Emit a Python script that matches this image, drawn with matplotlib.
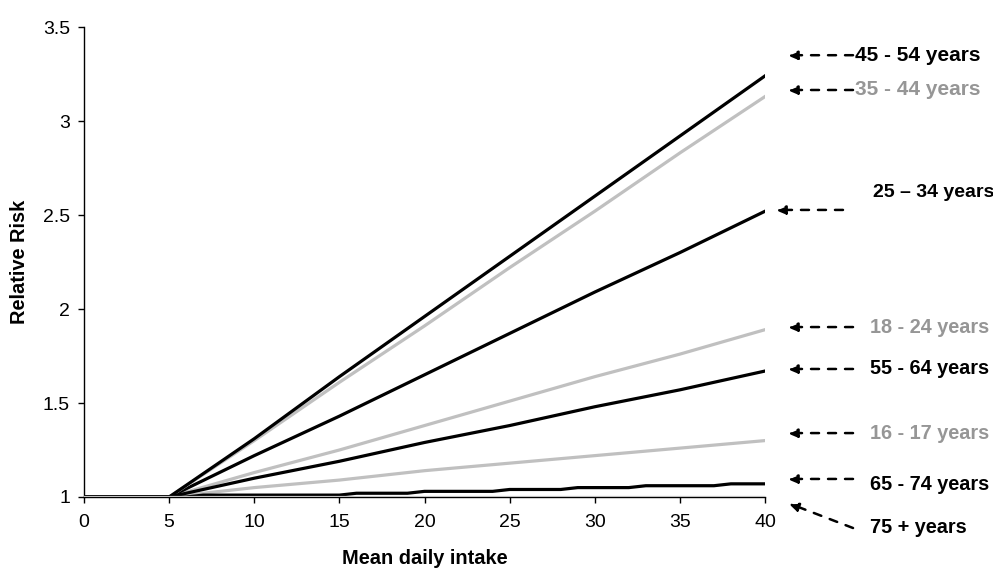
import matplotlib
matplotlib.use("Agg")
import matplotlib.pyplot as plt

plt.rcParams['font.family'] = ['Liberation Sans', 'DejaVu Sans']

# mean daily intake (x) and relative risk by age group
x = [0, 5, 10, 15, 20, 25, 30, 35, 40]
rr_45_54 = [1.00, 1.00, 1.31, 1.64, 1.96, 2.28, 2.60, 2.92, 3.24]
rr_35_44 = [1.00, 1.00, 1.30, 1.61, 1.91, 2.22, 2.52, 2.83, 3.13]
rr_25_34 = [1.00, 1.00, 1.22, 1.43, 1.65, 1.87, 2.09, 2.30, 2.52]
rr_18_24 = [1.00, 1.00, 1.13, 1.25, 1.38, 1.51, 1.64, 1.76, 1.89]
rr_55_64 = [1.00, 1.00, 1.10, 1.19, 1.29, 1.38, 1.48, 1.57, 1.67]
rr_16_17 = [1.00, 1.00, 1.05, 1.09, 1.14, 1.18, 1.22, 1.26, 1.30]
rr_75_up = [1.00, 1.00, 1.00, 1.00, 1.00, 1.00, 1.00, 1.00, 1.00]

x_int = list(range(0, 41))
rr_65_74 = ([1.00] * 7 + [1.01] * 9 + [1.02] * 4 + [1.03] * 5 +
            [1.04] * 4 + [1.05] * 4 + [1.06] * 5 + [1.07] * 3)

BLACK = '#000000'
LGREY = '#c0c0c0'
TGREY = '#969696'

fig = plt.figure(figsize=(9.93, 5.71), dpi=100)
ax = fig.add_axes([0.0846, 0.1296, 0.6858, 0.8231])

lw = 2.3
ax.plot(x, rr_16_17, color=LGREY, lw=lw)
ax.plot(x, rr_18_24, color=LGREY, lw=lw)
ax.plot(x, rr_25_34, color=BLACK, lw=lw)
ax.plot(x, rr_35_44, color=LGREY, lw=lw)
ax.plot(x, rr_45_54, color=BLACK, lw=lw)
ax.plot(x, rr_55_64, color=BLACK, lw=lw)
ax.plot(x_int, rr_65_74, color=BLACK, lw=lw)
ax.plot(x, rr_75_up, color=LGREY, lw=lw, zorder=3)

ax.set_xlim(0, 40)
ax.set_ylim(1, 3.5)
ax.set_xticks(range(0, 41, 5))
ax.set_yticks([1, 1.5, 2, 2.5, 3, 3.5])
ax.set_yticklabels(['1', '1.5', '2', '2.5', '3', '3.5'])
ax.tick_params(axis='both', direction='out', length=4, width=1, labelsize=14)
ax.tick_params(axis='x', pad=8)
ax.tick_params(axis='y', pad=6)
for s in ['top', 'right']:
    ax.spines[s].set_visible(False)
ax.spines['left'].set_linewidth(1)
ax.spines['bottom'].set_linewidth(1)

ax.set_xlabel('Mean daily intake', fontsize=14.4, fontweight='bold', va='center')
ax.xaxis.set_label_coords(0.5, -0.131)
ax.set_ylabel('Relative Risk', fontsize=14.4, fontweight='bold', va='center')
ax.yaxis.set_label_coords(-0.094, 0.5)

# labels on the right: text, colour, size, arrow head, arrow tail, text position
labels = ['45 - 54 years', '35 - 44 years', '25 \u2013 34 years', '18 - 24 years',
          '55 - 64 years', '16 - 17 years', '65 - 74 years', '75 + years']
label_colors = [BLACK, TGREY, BLACK, TGREY, BLACK, TGREY, BLACK, BLACK]
label_sizes = [15, 15, 14, 14.3, 14.3, 14.3, 14.3, 14.3]
heads = [(41.29, 3.35), (41.29, 3.165), (40.59, 2.527), (41.29, 1.904),
         (41.29, 1.681), (41.29, 1.34), (41.29, 1.096), (41.35, 0.968)]
tails = [(45.17, 3.35), (45.17, 3.165), (44.58, 2.527), (45.17, 1.904),
         (45.17, 1.681), (45.17, 1.34), (45.17, 1.096), (45.17, 0.835)]
text_pos = [(45.29, 3.35), (45.29, 3.165), (46.35, 2.62), (46.17, 1.904),
            (46.17, 1.681), (46.17, 1.34), (46.17, 1.064), (46.17, 0.84)]

for lab, col, fs, hd, tl, tp in zip(labels, label_colors, label_sizes,
                                    heads, tails, text_pos):
    ax.annotate('', xy=hd, xytext=tl, annotation_clip=False,
                arrowprops=dict(arrowstyle='-|>,head_length=0.6,head_width=0.25',
                                linestyle=(0, (3.2, 3.6)), lw=1.8, color=BLACK,
                                shrinkA=0, shrinkB=0))
    ax.text(tp[0], tp[1], lab, color=col, fontsize=fs, fontweight='bold',
            ha='left', va='center', clip_on=False)

fig.savefig('out.png', dpi=100)
